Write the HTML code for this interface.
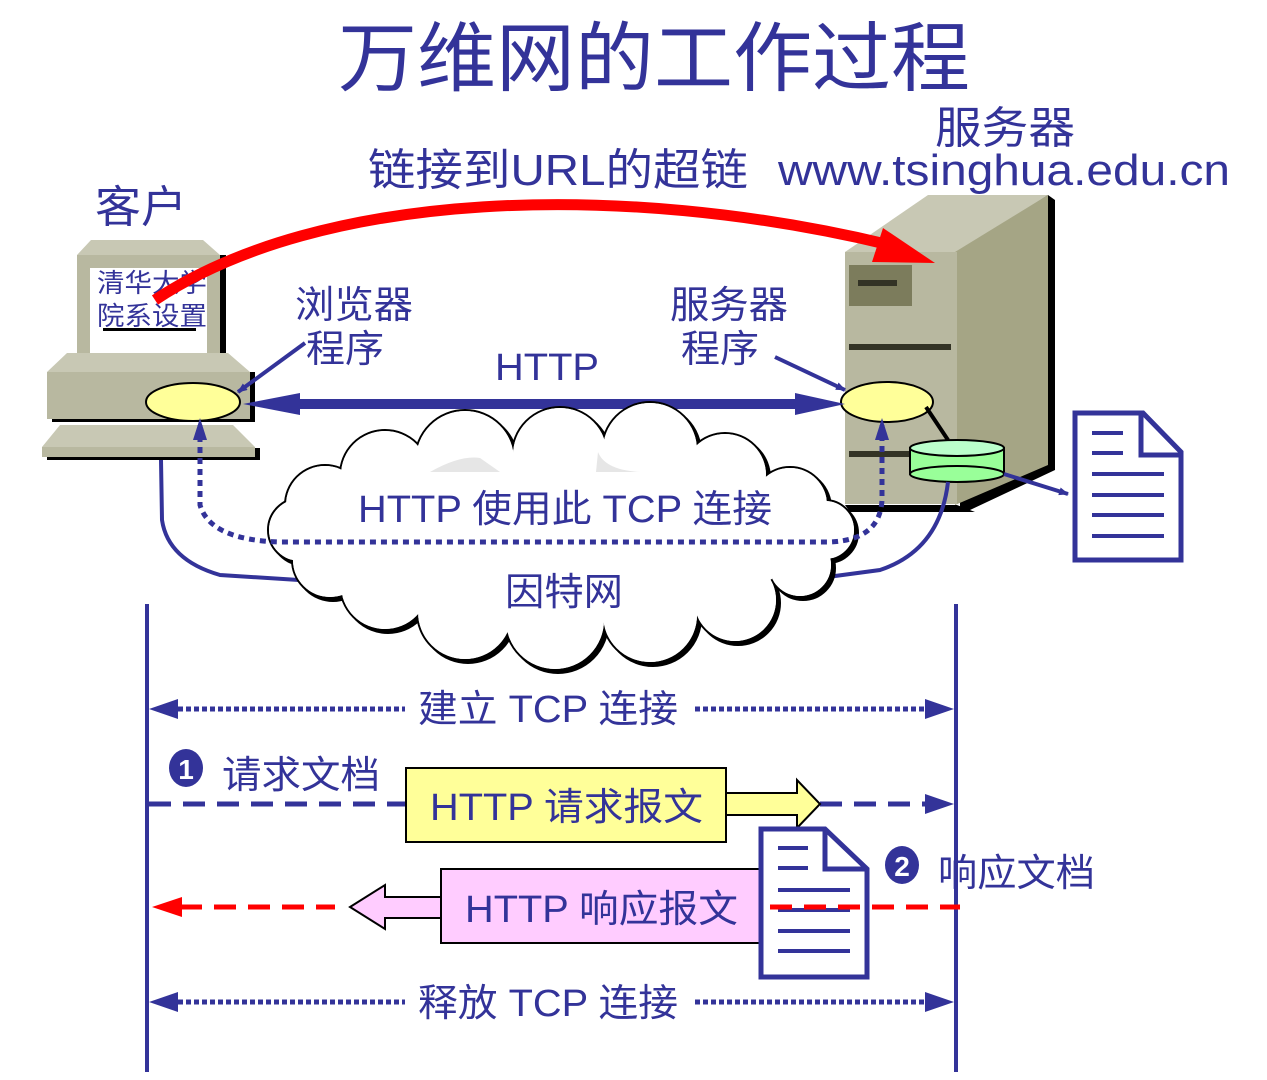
<!DOCTYPE html>
<html><head><meta charset="utf-8"><style>
html,body{margin:0;padding:0;background:#fff;}
svg{display:block;}
text{font-family:"Liberation Sans","Noto Sans CJK SC",sans-serif;fill:#333399;}
</style></head><body>
<svg width="1267" height="1080" viewBox="0 0 1267 1080" xmlns="http://www.w3.org/2000/svg">
<defs>
<marker id="ab" markerWidth="10" markerHeight="8" refX="9" refY="4" orient="auto" markerUnits="userSpaceOnUse"><path d="M0,0 L10,4 L0,8z" fill="#333399"/></marker>
</defs>
<!-- title -->
<text x="338" y="85" font-size="76" textLength="632" lengthAdjust="spacingAndGlyphs">万维网的工作过程</text>
<text x="935" y="143" font-size="44" textLength="140" lengthAdjust="spacingAndGlyphs">服务器</text>
<text x="368" y="185" font-size="44" textLength="380" lengthAdjust="spacingAndGlyphs">链接到URL的超链</text>
<text x="778" y="185" font-size="44" textLength="452" lengthAdjust="spacingAndGlyphs">www.tsinghua.edu.cn</text>
<text x="95" y="222" font-size="44" textLength="92" lengthAdjust="spacingAndGlyphs">客户</text>

<!-- client computer -->
<polygon points="77,255 91,240 203,240 220,255" fill="#c8c8b4"/>
<rect x="220" y="255" width="6" height="100" fill="#000"/>
<rect x="77" y="255" width="143" height="98" fill="#b8b8a0"/>
<rect x="90" y="268" width="117" height="85" fill="#fff"/>
<text x="97" y="292" font-size="26" textLength="110" lengthAdjust="spacingAndGlyphs">清华大学</text>
<text x="97" y="325" font-size="26" textLength="110" lengthAdjust="spacingAndGlyphs">院系设置</text>
<rect x="103" y="328" width="93" height="3" fill="#000"/>
<polygon points="47,372 67,353 228,353 250,372" fill="#c8c8b4"/>
<rect x="52" y="372" width="203" height="50" fill="#000"/>
<rect x="47" y="372" width="203" height="47" fill="#b8b8a0"/>
<polygon points="42,447 60,425 233,425 255,447" fill="#c8c8b4"/>
<rect x="47" y="448" width="213" height="12" fill="#000"/>
<rect x="42" y="447" width="213" height="10" fill="#b8b8a0"/>
<ellipse cx="193" cy="402" rx="47" ry="19" fill="#ffff99" stroke="#000" stroke-width="2"/>

<!-- server -->
<polygon points="845,252 960,252 1048,195 928,195" fill="#c8c8b4"/>
<polygon points="960,252 1048,195 1055,200 1055,470 970,510 960,510" fill="#000"/>
<polygon points="955,252 1048,195 1048,465 955,505" fill="#a5a585"/>
<rect x="845" y="252" width="112" height="252" fill="#b8b8a0"/>
<polygon points="845,505 957,505 975,512 850,512" fill="#000"/>
<rect x="849" y="265" width="63" height="41" fill="#7c7c5c"/>
<rect x="858" y="280" width="39" height="6" fill="#333325"/>
<rect x="849" y="344" width="102" height="6" fill="#333325"/>
<rect x="849" y="451" width="80" height="6" fill="#333325"/>
<ellipse cx="887" cy="402" rx="46" ry="20" fill="#ffff99" stroke="#000" stroke-width="2"/>
<line x1="926" y1="407" x2="948" y2="440" stroke="#000" stroke-width="4"/>
<rect x="910" y="448" width="94" height="26" fill="#99ff99" stroke="#000" stroke-width="2"/>
<ellipse cx="957" cy="474" rx="47" ry="8" fill="#99ff99" stroke="#000" stroke-width="2"/>
<ellipse cx="957" cy="448" rx="47" ry="8" fill="#bbffcc" stroke="#000" stroke-width="2"/>
<line x1="1004" y1="474" x2="1068" y2="494" stroke="#333399" stroke-width="4" marker-end="url(#ab)"/>
<path d="M1075,413 L1143,413 L1181,452 L1181,560 L1075,560 Z" fill="#fff" stroke="#333399" stroke-width="5"/>
<path d="M1141,413 L1141,455 L1181,455" fill="none" stroke="#333399" stroke-width="5"/>
<g stroke="#333399" stroke-width="4">
<line x1="1092" y1="433" x2="1123" y2="433"/><line x1="1092" y1="453" x2="1123" y2="453"/>
<line x1="1092" y1="474" x2="1164" y2="474"/><line x1="1092" y1="495" x2="1164" y2="495"/>
<line x1="1092" y1="515" x2="1164" y2="515"/><line x1="1092" y1="536" x2="1164" y2="536"/>
</g>

<!-- red hyperlink arrow -->
<path d="M155,300 C320,190 620,180 890,245" fill="none" stroke="#ff0000" stroke-width="11"/>
<polygon points="883,228 935,263 872,262" fill="#ff0000"/>

<!-- labels -->
<text x="295" y="318" font-size="38" textLength="118" lengthAdjust="spacingAndGlyphs">浏览器</text>
<text x="306" y="362" font-size="38" textLength="78" lengthAdjust="spacingAndGlyphs">程序</text>
<text x="670" y="318" font-size="38" textLength="118" lengthAdjust="spacingAndGlyphs">服务器</text>
<text x="681" y="362" font-size="38" textLength="78" lengthAdjust="spacingAndGlyphs">程序</text>
<text x="495" y="380" font-size="38" textLength="104" lengthAdjust="spacingAndGlyphs">HTTP</text>
<line x1="305" y1="343" x2="238" y2="392" stroke="#333399" stroke-width="4" marker-end="url(#ab)"/>
<line x1="775" y1="357" x2="845" y2="390" stroke="#333399" stroke-width="4" marker-end="url(#ab)"/>
<line x1="295" y1="404" x2="800" y2="404" stroke="#333399" stroke-width="10"/>
<polygon points="243,404 300,393 300,415" fill="#333399"/>
<polygon points="845,404 795,393 795,415" fill="#333399"/>

<!-- wires -->
<path d="M161,460 L162,520 Q168,560 220,575 L330,582" fill="none" stroke="#333399" stroke-width="4"/>
<path d="M948,482 Q940,550 880,570 L790,582" fill="none" stroke="#333399" stroke-width="4"/>

<!-- cloud -->
<g transform="translate(3,3)" fill="#000" stroke="#000" stroke-width="2">
<circle cx="325" cy="505" r="40"/><circle cx="300" cy="530" r="32"/><circle cx="385" cy="475" r="45"/><circle cx="465" cy="460" r="50"/><circle cx="560" cy="455" r="48"/><circle cx="650" cy="450" r="48"/><circle cx="725" cy="475" r="42"/><circle cx="790" cy="505" r="38"/><circle cx="825" cy="530" r="30"/><circle cx="800" cy="565" r="32"/><circle cx="735" cy="600" r="42"/><circle cx="650" cy="615" r="48"/><circle cx="555" cy="620" r="50"/><circle cx="465" cy="612" r="48"/><circle cx="385" cy="585" r="45"/><circle cx="330" cy="560" r="38"/><ellipse cx="560" cy="540" rx="240" ry="85"/>
</g>
<g fill="#fff" stroke="#000" stroke-width="2">
<circle cx="325" cy="505" r="40"/><circle cx="300" cy="530" r="32"/><circle cx="385" cy="475" r="45"/><circle cx="465" cy="460" r="50"/><circle cx="560" cy="455" r="48"/><circle cx="650" cy="450" r="48"/><circle cx="725" cy="475" r="42"/><circle cx="790" cy="505" r="38"/><circle cx="825" cy="530" r="30"/><circle cx="800" cy="565" r="32"/><circle cx="735" cy="600" r="42"/><circle cx="650" cy="615" r="48"/><circle cx="555" cy="620" r="50"/><circle cx="465" cy="612" r="48"/><circle cx="385" cy="585" r="45"/><circle cx="330" cy="560" r="38"/><ellipse cx="560" cy="540" rx="240" ry="85"/>
</g>
<g fill="#fff">
<circle cx="325" cy="505" r="39"/><circle cx="300" cy="530" r="31"/><circle cx="385" cy="475" r="44"/><circle cx="465" cy="460" r="49"/><circle cx="560" cy="455" r="47"/><circle cx="650" cy="450" r="47"/><circle cx="725" cy="475" r="41"/><circle cx="790" cy="505" r="37"/><circle cx="825" cy="530" r="29"/><circle cx="800" cy="565" r="31"/><circle cx="735" cy="600" r="41"/><circle cx="650" cy="615" r="47"/><circle cx="555" cy="620" r="49"/><circle cx="465" cy="612" r="47"/><circle cx="385" cy="585" r="44"/><circle cx="330" cy="560" r="37"/><ellipse cx="560" cy="540" rx="239" ry="84"/>
</g>
<path d="M430,472 Q460,455 480,458 L500,472Z" fill="#e6e6e6"/>
<path d="M598,452 Q605,470 640,472 L596,472Z" fill="#e6e6e6"/>

<!-- dotted TCP path -->
<path d="M200,425 L200,505 Q210,540 280,542 L830,542 Q880,540 882,500 L882,425" fill="none" stroke="#333399" stroke-width="5" stroke-dasharray="6,5"/>
<polygon points="200,418 193,440 207,440" fill="#333399"/>
<polygon points="882,418 875,440 889,440" fill="#333399"/>
<text x="358" y="522" font-size="38" textLength="414" lengthAdjust="spacingAndGlyphs">HTTP 使用此 TCP 连接</text>
<text x="505" y="605" font-size="38" textLength="118" lengthAdjust="spacingAndGlyphs">因特网</text>

<!-- timeline -->
<line x1="147" y1="604" x2="147" y2="1072" stroke="#333399" stroke-width="4"/>
<line x1="956" y1="604" x2="956" y2="1072" stroke="#333399" stroke-width="4"/>

<g stroke="#333399" stroke-width="5" stroke-dasharray="5,3">
<line x1="170" y1="709" x2="405" y2="709"/><line x1="695" y1="709" x2="930" y2="709"/>
<line x1="170" y1="1002" x2="405" y2="1002"/><line x1="695" y1="1002" x2="930" y2="1002"/>
</g>
<g fill="#333399">
<polygon points="149,709 178,699 178,719"/><polygon points="954,709 925,699 925,719"/>
<polygon points="149,1002 178,992 178,1012"/><polygon points="954,1002 925,992 925,1012"/>
</g>
<text x="418" y="722" font-size="38" textLength="260" lengthAdjust="spacingAndGlyphs">建立 TCP 连接</text>
<text x="418" y="1016" font-size="38" textLength="260" lengthAdjust="spacingAndGlyphs">释放 TCP 连接</text>

<!-- request -->
<ellipse cx="186" cy="768" rx="17" ry="19" fill="#333399"/>
<text x="186" y="779" font-size="28" text-anchor="middle" font-weight="bold" style="fill:#fff">1</text>
<text x="222" y="788" font-size="38" textLength="158" lengthAdjust="spacingAndGlyphs">请求文档</text>
<line x1="149" y1="804" x2="405" y2="804" stroke="#333399" stroke-width="5" stroke-dasharray="22,12"/>
<line x1="820" y1="804" x2="930" y2="804" stroke="#333399" stroke-width="5" stroke-dasharray="22,12"/>
<polygon points="954,804 925,794 925,814" fill="#333399"/>
<rect x="406" y="768" width="320" height="74" fill="#ffff99" stroke="#000" stroke-width="2"/>
<polygon points="726,793 797,793 797,780 820,804 797,828 797,815 726,815" fill="#ffff99" stroke="#000" stroke-width="2"/>
<text x="430" y="820" font-size="38" textLength="273" lengthAdjust="spacingAndGlyphs">HTTP 请求报文</text>

<!-- response -->
<rect x="441" y="869" width="320" height="74" fill="#ffccff" stroke="#000" stroke-width="2"/>
<polygon points="441,897 385,897 385,885 350,907 385,929 385,918 441,918" fill="#ffccff" stroke="#000" stroke-width="2"/>
<text x="465" y="922" font-size="38" textLength="273" lengthAdjust="spacingAndGlyphs">HTTP 响应报文</text>
<path d="M761,829 L825,829 L867,869 L867,977 L761,977 Z" fill="#fff" stroke="#333399" stroke-width="5"/>
<path d="M825,829 L825,869 L867,869" fill="none" stroke="#333399" stroke-width="5"/>
<g stroke="#333399" stroke-width="4">
<line x1="778" y1="848" x2="808" y2="848"/><line x1="778" y1="868" x2="808" y2="868"/>
<line x1="778" y1="890" x2="850" y2="890"/><line x1="778" y1="910" x2="850" y2="910"/>
<line x1="778" y1="931" x2="850" y2="931"/><line x1="778" y1="951" x2="850" y2="951"/>
</g>
<line x1="180" y1="907" x2="335" y2="907" stroke="#ff0000" stroke-width="5" stroke-dasharray="22,12"/>
<line x1="770" y1="907" x2="960" y2="907" stroke="#ff0000" stroke-width="5" stroke-dasharray="22,12"/>
<polygon points="152,907 182,897 182,917" fill="#ff0000"/>
<ellipse cx="902" cy="865" rx="17" ry="19" fill="#333399"/>
<text x="902" y="876" font-size="28" text-anchor="middle" font-weight="bold" style="fill:#fff">2</text>
<text x="938" y="886" font-size="38" textLength="157" lengthAdjust="spacingAndGlyphs">响应文档</text>
</svg>
</body></html>
